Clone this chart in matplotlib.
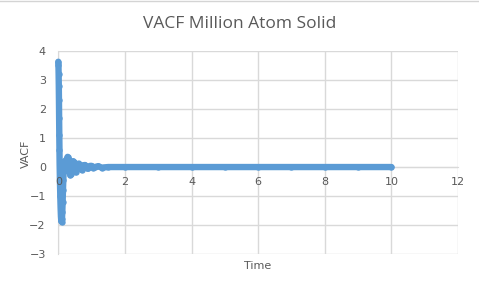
import matplotlib.pyplot as plt
from matplotlib.lines import Line2D

# VACF data
time = [0.000, 0.005, 0.010, 0.015, 0.020, 0.025, 0.030, 0.035, 0.040, 0.050,
        0.060, 0.070, 0.080, 0.090, 0.100, 0.110, 0.120, 0.130, 0.140, 0.150,
        0.160, 0.180, 0.200, 0.220, 0.240, 0.260, 0.280, 0.300, 0.320, 0.340,
        0.360, 0.380, 0.400, 0.420, 0.440, 0.460, 0.480, 0.500, 0.520, 0.550,
        0.580, 0.620, 0.660, 0.700, 0.750, 0.800, 0.850, 0.900, 0.950, 1.000,
        1.050, 1.100, 1.200, 1.300, 1.500, 2.000, 3.000, 4.000, 5.000, 6.000,
        7.000, 8.000, 9.000, 10.000]
vacf = [3.62, 3.50, 3.20, 2.80, 2.30, 1.70, 1.10, 0.60, 0.10, -0.50,
        -1.00, -1.40, -1.70, -1.85, -1.88, -1.80, -1.55, -1.20, -0.80, -0.45,
        -0.15, 0.10, 0.20, 0.15, 0.20, 0.30, 0.35, 0.30, 0.10, -0.15,
        -0.28, -0.25, -0.10, 0.10, 0.20, 0.18, 0.05, -0.12, -0.18, -0.08,
        0.10, 0.12, -0.05, -0.10, 0.06, 0.07, -0.04, -0.05, 0.04, 0.04,
        -0.03, 0.00, 0.03, -0.02, 0.00, 0.00, 0.00, 0.00, 0.00, 0.00,
        0.00, 0.00, 0.00, 0.00]

x_ticks = [0, 2, 4, 6, 8, 10, 12]
x_labels = ['', '2', '4', '6', '8', '10', '12']  # el "0" se dibuja encima
y_ticks = [-3, -2, -1, 0, 1, 2, 3, 4]

azul = '#5B9BD5'
gris_texto = '#595959'
gris_rejilla = '#D9D9D9'

fig = plt.figure(figsize=(4.79, 2.91), dpi=100)
ax = fig.add_axes([0.1217, 0.1261, 0.8345, 0.6997])

ax.plot(time, vacf, color=azul, linewidth=4.6, marker='o', markersize=4.6,
        markeredgewidth=0, solid_capstyle='round', solid_joinstyle='round',
        clip_on=False, zorder=3)

ax.set_xlim(0, 12)
ax.set_ylim(-3, 4)
ax.set_xticks(x_ticks)
ax.set_xticklabels(x_labels)
ax.set_yticks(y_ticks)
ax.grid(True, color=gris_rejilla, linewidth=1.0)
ax.set_axisbelow(True)

for lado in ['top', 'right', 'left']:
    ax.spines[lado].set_visible(False)
ax.spines['bottom'].set_position(('data', 0))
ax.spines['bottom'].set_color(gris_rejilla)
ax.spines['left'].set_visible(True)
ax.spines['left'].set_color(gris_rejilla)

ax.tick_params(axis='both', length=0, labelsize=8, labelcolor=gris_texto)
ax.tick_params(axis='x', pad=7)
ax.tick_params(axis='y', pad=9)

# etiqueta "0" del eje x por encima de los datos, como en Excel
ax.annotate(str(x_ticks[0]), xy=(x_ticks[0], 0), xytext=(0, -7),
            textcoords='offset points', ha='center', va='top', fontsize=8,
            color=gris_texto, annotation_clip=False, zorder=5)

fig.text(0.5, 0.917, 'VACF Million Atom Solid', ha='center', va='center',
         fontsize=12.5, color=gris_texto, family='Open Sans')
fig.text(258 / 479, 1 - 266 / 291, 'Time', ha='center', va='center',
         fontsize=8, color=gris_texto)
fig.text(26 / 479, 1 - 154 / 291, 'VACF', ha='center', va='center',
         rotation=90, fontsize=8, color=gris_texto)

# linea gris superior (borde de la hoja)
fig.add_artist(Line2D([0, 1], [0.997, 0.997], color='#D4D4D4', linewidth=1.0,
                      transform=fig.transFigure))

fig.savefig('out.png', dpi=100)
